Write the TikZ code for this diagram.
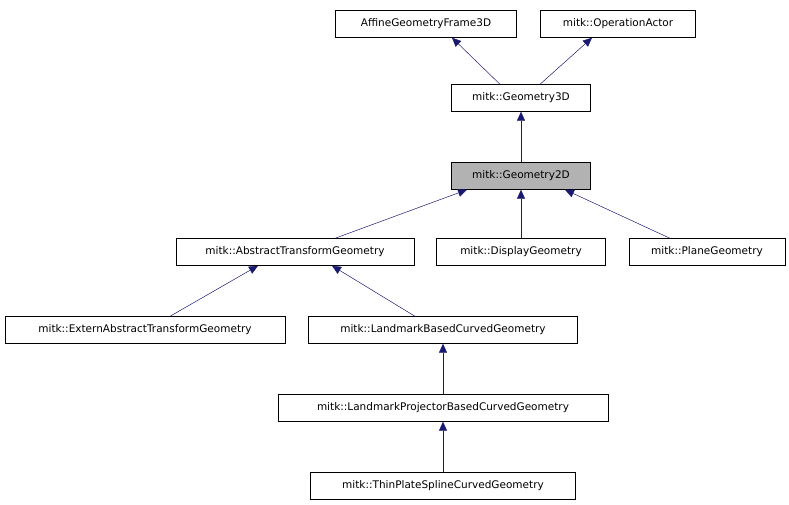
\documentclass[tikz,border=0pt]{standalone}
\usepackage{fontspec}
\setmainfont{DejaVu Sans}
\usetikzlibrary{arrows.meta}
\definecolor{edgeblue}{HTML}{191970}
\tikzset{
  x=1pt, y=-1pt,
  cls/.style={draw=black, fill=white, minimum height=27pt, inner sep=0pt, font=\fontsize{10.5}{12}\selectfont},
  edge/.style={draw=edgeblue, -{Triangle[length=9pt,width=8pt]}, fill=edgeblue},
}
\begin{document}
\begin{tikzpicture}
    \useasboundingbox (0,0) rectangle (789,504);
    \node[cls, minimum width=181pt] (affine) at (426,24) {AffineGeometryFrame3D};
    \node[cls, minimum width=155pt] (opactor) at (618,24) {mitk::OperationActor};
    \node[cls, minimum width=139pt] (g3d) at (521,98) {mitk::Geometry3D};
    \node[cls, minimum width=139pt, fill=black!30] (g2d) at (521,176) {mitk::Geometry2D};

    %third row
    \node[cls, minimum width=238pt] (abs) at (295,252) {mitk::AbstractTransformGeometry};
    \node[cls, minimum width=169pt] (disp) at (521,252) {mitk::DisplayGeometry};
    \node[cls, minimum width=156pt] (plane) at (707,252) {mitk::PlaneGeometry};

    %below abs
    \node[cls, minimum width=280pt] (ext) at (145,330) {mitk::ExternAbstractTransformGeometry};
    \node[cls, minimum width=269pt] (lmk) at (443,330) {mitk::LandmarkBasedCurvedGeometry};
    \node[cls, minimum width=330pt] (lmkproj) at (443,408) {mitk::LandmarkProjectorBasedCurvedGeometry};
    \node[cls, minimum width=265pt] (tps) at (443,486) {mitk::ThinPlateSplineCurvedGeometry};

    \draw[edge] ([xshift=-21pt]g3d.north) -- ([xshift=26pt]affine.south);
    \draw[edge] ([xshift=19pt]g3d.north) -- ([xshift=-26pt]opactor.south);
    \draw[edge] (g2d) -- (g3d);
    \draw[edge] ([xshift=40pt]abs.north) -- ([xshift=-54pt]g2d.south);
    \draw[edge] (disp) -- (g2d);
    \draw[edge] ([xshift=-37pt]plane.north) -- ([xshift=44pt]g2d.south);
    \draw[edge] ([xshift=25pt]ext.north) -- ([xshift=-37pt]abs.south);
    \draw[edge] ([xshift=-28pt]lmk.north) -- ([xshift=37pt]abs.south);
    \draw[edge] (lmkproj) -- (lmk);
    \draw[edge] (tps) -- (lmkproj);
\end{tikzpicture}
\end{document}
